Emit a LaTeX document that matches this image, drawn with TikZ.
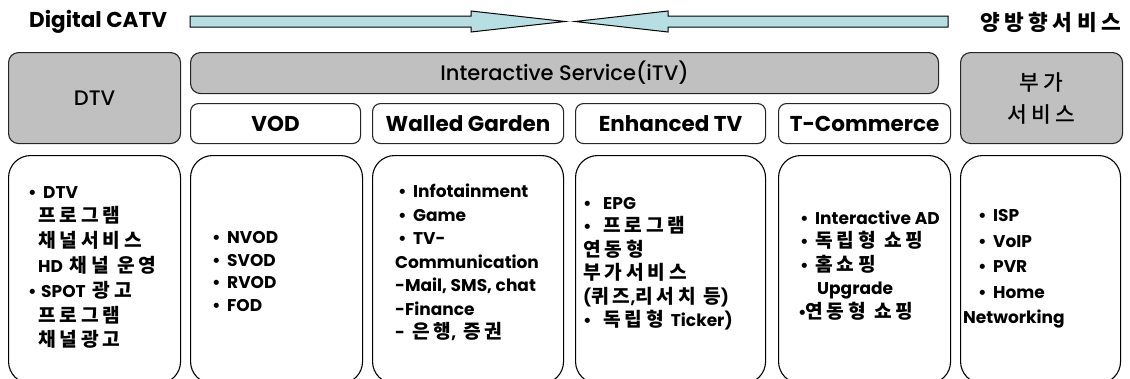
\documentclass[tikz,border=0pt]{standalone}
\usepackage{fontspec}
\setmainfont{Poppins}
\newfontfamily\popmed{Poppins Medium}
\newfontfamily\krf{Noto Sans CJK KR}[Scale=1.13,LetterSpace=20]
\newfontfamily\krm{Noto Sans CJK KR Medium}[Scale=1.13,LetterSpace=20]
\newcommand\K[1]{{\krf #1}}
\newcommand\Bu{\makebox[15pt][l]{•}}
\newcommand\Bw{\makebox[20pt][l]{•}}
\newcommand\Sp{\hspace{7pt}}
\definecolor{boxgray}{RGB}{192,192,192}
\definecolor{arrowcyan}{RGB}{183,222,226}
\newcommand\mkbox[6]{\node[#1, anchor=north west, inner sep=0pt, minimum width={(#4-#2)*1pt}, minimum height={(#5-#3)*1pt}] (#6) at (#2,#3) {};}
\tikzset{
  graybox/.style={draw=black!85, line width=1.1pt, fill=boxgray, rounded corners=10pt},
  whitebox/.style={draw=black!85, line width=1.1pt, fill=white, rounded corners=8pt},
  bigbox/.style={draw=black, line width=1.1pt, fill=white, rounded corners=22pt},
  band/.style={draw=black, line width=1pt, fill=arrowcyan, line join=miter},
  lbl/.style={font=\bfseries\fontsize{21.5}{24}\selectfont, inner sep=0pt},
  lblm/.style={font=\popmed\fontsize{21}{32}\selectfont, inner sep=0pt, align=center},
  body/.style={font=\bfseries\fontsize{17}{23.5}\selectfont, align=left, anchor=west, inner sep=0pt},
}
\begin{document}
\begin{tikzpicture}[x=1pt,y=-1pt]
\useasboundingbox (0,0) rectangle (1130,378);
\clip (0,0) rectangle (1130,378);
% top banner
\node[lbl, anchor=west] (catv) at (29,22) {Digital CATV};
\node[lbl, anchor=east, font=\bfseries\fontsize{19}{22}\selectfont] (two) at (1121,22) {\K{양방향서비스}};
\draw[band] (190,16) -- (471,16) -- (471,11) -- (565,21.5) -- (471,32) -- (471,27) -- (190,27) -- cycle;
\draw[band] (948,16) -- (668,16) -- (668,11) -- (575,21.5) -- (668,32) -- (668,27) -- (948,27) -- cycle;
% header boxes
\mkbox{graybox}{8}{52}{180}{143}{dtv}
\mkbox{graybox}{190}{52}{938}{93}{itv}
\mkbox{whitebox}{190}{103}{360}{143}{vod}
\mkbox{whitebox}{372}{103}{563}{143}{wg}
\mkbox{whitebox}{575}{103}{765}{143}{etv}
\mkbox{whitebox}{778}{103}{950}{143}{tc}
\mkbox{graybox}{960}{52}{1122}{143}{add}
\node[lblm] at (dtv.center) {DTV};
\node[lblm] at (itv.center) {Interactive Service(iTV)};
\node[lbl] at (vod.center) {VOD};
\node[lbl] at (wg.center) {Walled Garden};
\node[lbl] at (etv.center) {Enhanced TV};
\node[lbl] at (tc.center) {T-Commerce};
\node[lblm, font=\fontsize{19}{32}\selectfont] at (add.center) {{\krm 부가}\\{\krm 서비스}};
% bottom boxes
\mkbox{bigbox}{8}{155}{180}{383}{bdtv}
\mkbox{bigbox}{190}{155}{362}{383}{bvod}
\mkbox{bigbox}{372}{155}{563}{383}{bwg}
\mkbox{bigbox}{575}{155}{765}{383}{betv}
\mkbox{bigbox}{778}{155}{950}{383}{btc}
\mkbox{bigbox}{960}{155}{1120}{383}{badd}
\node[body, font=\bfseries\fontsize{17}{24.8}\selectfont] (t1) at (28,267.5) {\Bu DTV\\ \hspace*{10pt}\K{프로그램}\\ \hspace*{10pt}\K{채널서비스}\\ \hspace*{10pt}HD\Sp\K{채널 운영}\\ \makebox[13pt][l]{•}SPOT\Sp\K{광고}\\ \hspace*{10pt}\K{프로그램}\\ \hspace*{10pt}\K{채널광고}};
\node[body, font=\bfseries\fontsize{17}{22.5}\selectfont] (t2) at (212,271.5) {\Bu NVOD\\ \Bu SVOD\\ \Bu RVOD\\ \Bu FOD};
\node[body] (t3) at (395,262.5) {\hspace*{3pt}\Bu Infotainment\\ \hspace*{3pt}\Bu Game\\ \hspace*{3pt}\Bu TV-\\ Communication\\ -Mail, SMS, chat\\ -Finance\\ -\Sp\K{은행},\Sp\K{증권}};
\node[body] (t4) at (583,263.5) {\Bw EPG\\ \Bw\K{프로그램}\\ \K{연동형}\\ \K{부가서비스}\\ (\K{퀴즈},\K{리서치}\Sp\K{등})\\ \Bw\K{독립형}\Sp Ticker)};
\node[body] (t5) at (798,265.5) {\hspace*{2pt}\Bu Interactive AD\\ \hspace*{2pt}\Bu\K{독립형 쇼핑}\\ \hspace*{2pt}\Bu\K{홈쇼핑}\\ \hspace*{19pt}Upgrade\\ \makebox[7pt][l]{•}\K{연동형 쇼핑}};
\node[body, font=\bfseries\fontsize{17}{25.5}\selectfont] (t6) at (963,269) {\hspace*{15pt}\Bu ISP\\ \hspace*{15pt}\Bu VoIP\\ \hspace*{15pt}\Bu PVR\\ \hspace*{15pt}\Bu Home\\ Networking};
\end{tikzpicture}
\end{document}
